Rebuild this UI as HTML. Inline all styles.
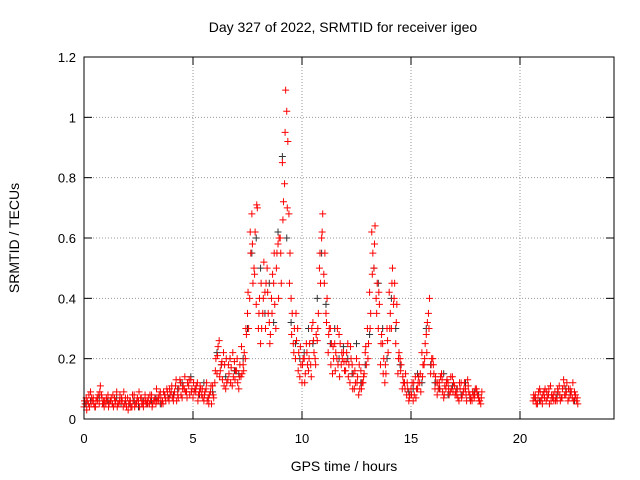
<!DOCTYPE html>
<html><head><meta charset="utf-8"><style>
html,body{margin:0;padding:0;background:#fff;}
svg{display:block;font-family:"Liberation Sans",sans-serif;}
</style></head><body>
<svg id="chart" width="640" height="480" viewBox="0 0 640 480">
<rect x="0" y="0" width="640" height="480" fill="#fff"/>
<g id="grid"></g>
<g id="ticks"></g>
<g id="points"></g>
<rect x="84" y="57" width="530" height="362" fill="none" stroke="#000" stroke-width="1"/>
<text x="343" y="32" text-anchor="middle" font-size="14">Day 327 of 2022, SRMTID for receiver igeo</text>
<text x="344" y="471" text-anchor="middle" font-size="14">GPS time / hours</text>
<text x="19" y="238" text-anchor="middle" font-size="14" transform="rotate(-90 19 238)">SRMTID / TECUs</text>
</svg>
<script>
const xTicks=[0,5,10,15,20];
const yTicks=[0,0.2,0.4,0.6,0.8,1,1.2];
const yTickLabels=["0","0.2","0.4","0.6","0.8","1","1.2"];
const binStarts=[0,1,2,3,4,5,6,7,8,9,10,11,12,13,14,15,16,17,18,20.6,21.6];
const redA=[
[.05,.06,.04,.07,.05,.06,.08,.11,.05,.06],
[.06,.05,.07,.04,.06,.05,.08,.06,.05,.04],
[.05,.04,.06,.05,.07,.04,.05,.06,.05,.07],
[.06,.05,.07,.06,.08,.05,.09,.06,.07,.08],
[.07,.09,.06,.10,.08,.11,.09,.12,.08,.10],
[.09,.11,.08,.10,.07,.09,.06,.08,.05,.07],
[.20,.24,.16,.13,.18,.12,.15,.17,.14,.16],
[.12,.18,.15,.22,.28,.30,.55,.45,.62,.70],
[.40,.30,.52,.45,.35,.28,.48,.38,.55,.60],
[.45,.72,1.09,.92,.55,.35,.30,.26,.22,.18],
[.20,.15,.18,.25,.30,.22,.28,.35,.45,.68],
[.55,.40,.30,.25,.20,.22,.18,.25,.20,.16],
[.22,.18,.20,.15,.12,.14,.10,.12,.15,.18],
[.25,.35,.55,.64,.45,.38,.28,.20,.15,.22],
[.35,.50,.45,.38,.22,.18,.12,.15,.10,.08],
[.12,.08,.10,.14,.09,.18,.25,.32,.40,.20],
[.15,.12,.10,.14,.09,.11,.13,.08,.10,.12],
[.09,.07,.10,.08,.12,.06,.09,.07,.08,.10],
[.08,.06,.09],
[.07,.05,.09,.06,.08,.10,.07,.05,.08,.06],
[.07,.09,.06,.10,.08,.12,.07,.09,.06,.08,.05]];
const redB=[
[.04,.07,.05,.09,.06,.04,.07,.05,.08,.06],
[.05,.08,.06,.05,.07,.09,.05,.06,.04,.07],
[.07,.06,.04,.08,.05,.06,.07,.05,.08,.06],
[.05,.08,.06,.05,.07,.09,.06,.08,.10,.06],
[.09,.06,.11,.08,.13,.07,.10,.09,.11,.13],
[.07,.10,.12,.09,.08,.06,.10,.07,.09,.11],
[.12,.15,.26,.18,.22,.10,.13,.20,.11,.19],
[.16,.10,.14,.18,.20,.35,.40,.68,.50,.38],
[.30,.25,.35,.42,.50,.32,.40,.45,.30,.58],
[.60,.85,.78,1.02,.68,.40,.25,.20,.30,.14],
[.12,.20,.25,.16,.18,.32,.20,.26,.50,.60],
[.48,.35,.22,.30,.15,.25,.20,.28,.18,.22],
[.16,.25,.12,.18,.10,.20,.08,.16,.12,.22],
[.30,.42,.62,.50,.40,.30,.18,.25,.12,.30],
[.42,.30,.38,.25,.15,.20,.10,.12,.08,.06],
[.10,.06,.14,.10,.12,.22,.18,.28,.35,.15],
[.20,.10,.08,.12,.15,.07,.10,.12,.09,.14],
[.11,.08,.06,.12,.09,.10,.13,.08,.06,.07],
[.10,.07,.05],
[.06,.08,.05,.10,.07,.09,.06,.08,.11,.07],
[.09,.06,.11,.07,.13,.08,.06,.10,.07,.09,.06]];
const redC=[
[.06,.03,.08,.05,.07,.04,.06,.09,.07,.04],
[.07,.04,.06,.08,.05,.04,.06,.07,.09,.05],
[.03,.06,.08,.04,.06,.09,.07,.04,.06,.05],
[.08,.04,.06,.10,.06,.07,.05,.07,.09,.10],
[.11,.08,.13,.07,.12,.10,.14,.07,.13,.09],
[.12,.09,.06,.11,.10,.08,.12,.05,.11,.08],
[.16,.21,.14,.19,.11,.20,.18,.12,.22,.13],
[.20,.14,.24,.16,.30,.42,.62,.58,.48,.71],
[.35,.45,.40,.30,.42,.25,.35,.55,.50,.40],
[.55,.66,.95,.70,.45,.28,.22,.35,.16,.24],
[.18,.12,.22,.20,.14,.26,.18,.30,.55,.62],
[.45,.32,.28,.18,.24,.16,.30,.14,.22,.19],
[.19,.14,.24,.10,.16,.12,.18,.10,.14,.24],
[.20,.30,.48,.58,.35,.42,.25,.15,.18,.26],
[.30,.45,.40,.32,.20,.16,.14,.10,.12,.07],
[.08,.12,.07,.12,.15,.14,.20,.22,.30,.18],
[.18,.14,.12,.10,.13,.08,.12,.10,.14,.09],
[.08,.10,.12,.07,.10,.08,.11,.06,.09,.08],
[.09,.06,.07],
[.08,.06,.07,.09,.05,.07,.09,.10,.06,.08],
[.06,.10,.08,.07,.11,.09,.10,.08,.12,.07,.07]];
const black=[
[.05,.06,.04,.07,.05],[.06,.05,.07,.05,.06],[.05,.06,.04,.06,.05],[.06,.07,.05,.08,.07],
[.08,.10,.12,.09,.14],[.10,.08,.12,.07,.09],[.22,.18,.14,.20,.16],[.15,.20,.30,.55,.60],
[.50,.35,.45,.32,.62],[.87,.60,.32,.25,.20],[.22,.30,.25,.40,.55],[.38,.25,.30,.20,.24],
[.20,.15,.25,.12,.18],[.28,.50,.45,.30,.20],[.40,.30,.18,.12,.09],[.10,.15,.12,.30,.18],
[.12,.10,.15,.08,.11],[.10,.08,.12,.07,.09],[.08],[.07,.06,.09,.08,.07],[.08,.07,.10,.09,.06]];

const NS="http://www.w3.org/2000/svg";
const X0=84,X1=614,Y0=419,Y1=57;
const xs=t=>X0+t*21.8;
const ys=v=>Y0-v*(Y0-Y1)/1.2;
function mk(tag,attrs,parent){const e=document.createElementNS(NS,tag);for(const k in attrs)e.setAttribute(k,attrs[k]);parent.appendChild(e);return e;}
const grid=document.getElementById('grid'),ticks=document.getElementById('ticks'),pts=document.getElementById('points');
yTicks.forEach((v,i)=>{
  const y=ys(v);
  if(i>0&&i<yTicks.length-1){const g=mk('line',{x1:X0,x2:X1,y1:y,y2:y,stroke:'#999','stroke-dasharray':'1,2'},grid);
  
  }
  mk('line',{x1:X0,x2:X0+8,y1:y,y2:y,stroke:'#000'},ticks);
  mk('line',{x1:X1,x2:X1-8,y1:y,y2:y,stroke:'#000'},ticks);
  const t=mk('text',{x:X0-8,y:y+5,'text-anchor':'end','font-size':'13'},ticks);
  t.textContent=yTickLabels[i];
  
  
});
xTicks.forEach(v=>{
  const x=xs(v);
  if(v>0){const g=mk('line',{x1:x,x2:x,y1:Y0,y2:Y1,stroke:'#999','stroke-dasharray':'1,2'},grid);
  
  }
  mk('line',{x1:x,x2:x,y1:Y0,y2:Y0-8,stroke:'#000'},ticks);
  mk('line',{x1:x,x2:x,y1:Y1,y2:Y1+8,stroke:'#000'},ticks);
  const t=mk('text',{x:x,y:Y0+24,'text-anchor':'middle','font-size':'13'},ticks);
  t.textContent=String(v);
  
  
});
function plus(t,v,color){
  const x=xs(t),y=ys(v);
  const p=mk('path',{d:`M${x-3.5},${y}h7M${x},${y-3.5}v7`,stroke:color,'stroke-width':'1',fill:'none'},pts);
  
  
}
function series(arr,step,off,color){
  arr.forEach((bin,i)=>bin.forEach((v,k)=>plus(binStarts[i]+off+k*step,v,color)));
}
series(black,0.2,0.1,'#333');
series(redA,0.1,0.05,'#ff0000');
series(redB,0.1,0.0,'#ff0000');
series(redC,0.1,0.025,'#ff0000');
</script>
</body></html>
